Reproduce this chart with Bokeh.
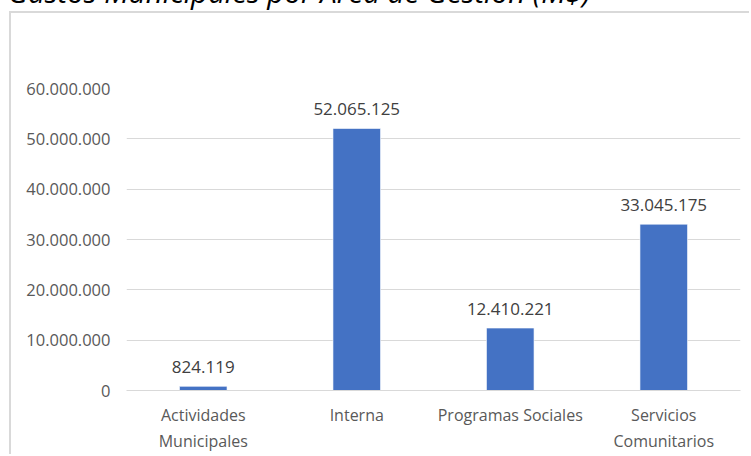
from bokeh.plotting import figure
from bokeh.models import FactorRange, FixedTicker, ColumnDataSource, LabelSet, Div
from bokeh.layouts import column
from bokeh.core.properties import value
from bokeh.embed import file_html
from bokeh.resources import INLINE

# ---- data ----
categories = ["Actividades\nMunicipales", "Interna", "Programas Sociales", "Servicios\nComunitarios"]
values = [824119, 52065125, 12410221, 33045175]
value_labels = ["824.119", "52.065.125", "12.410.221", "33.045.175"]
y_ticks = [0, 10000000, 20000000, 30000000, 40000000, 50000000, 60000000]
y_tick_labels = ["0", "10.000.000", "20.000.000", "30.000.000", "40.000.000", "50.000.000", "60.000.000"]
title_text = "Gastos Municipales por Área de Gestión (M$)"

p = figure(width=740, height=443, x_range=FactorRange(*categories, range_padding=0),
           y_range=(0, 60000000), output_backend="svg", toolbar_location=None,
           min_border_left=115, min_border_right=11, min_border_top=75, min_border_bottom=66,
           margin=(0, 0, 0, 9),
           styles={"border-left": "2px solid #D9D9D9", "border-top": "2px solid #D9D9D9"})
p.outline_line_color = None
p.background_fill_color = "white"
p.border_fill_color = "white"

src = ColumnDataSource(dict(cat=categories, val=values, lab=value_labels))
p.vbar(x="cat", top="val", width=0.31, source=src, fill_color="#4472C4",
       line_color="#FFFFFF", line_width=1, line_alpha=0.6)

labels = LabelSet(x="cat", y="val", text="lab", source=src, text_align="center",
                  text_baseline="bottom", y_offset=13, text_font=value("Open Sans"),
                  text_font_size="17px", text_color="#404040")
p.add_layout(labels)

p.yaxis.ticker = FixedTicker(ticks=y_ticks)
p.yaxis.major_label_overrides = {t: l for t, l in zip(y_ticks, y_tick_labels)}
for ax in (p.xaxis[0], p.yaxis[0]):
    ax.axis_line_color = None
    ax.major_tick_line_color = None
    ax.minor_tick_line_color = None
    ax.major_tick_out = 0
    ax.major_tick_in = 0
    ax.major_label_text_font = "Open Sans"
    ax.major_label_text_color = "#595959"
p.yaxis.major_label_text_font_size = "16.5px"
p.xaxis.major_label_text_font_size = "16px"
p.yaxis.major_label_standoff = 16
p.xaxis.major_label_standoff = 13
p.xaxis.axis_line_color = "#D9D9D9"

p.xgrid.grid_line_color = None
p.ygrid.grid_line_color = "#D9D9D9"
p.ygrid.grid_line_width = 1

title_div = Div(
    text=('<div style="position:relative;top:-29px;white-space:nowrap;'
          'font-family:\'Open Sans\';font-style:italic;font-size:29.5px;color:#000000;">'
          + title_text + '</div>'),
    width=743, height=11, margin=(0, 0, 0, 8))

layout = column(title_div, p, spacing=0)
open("out.html", "w").write(file_html(layout, INLINE))
